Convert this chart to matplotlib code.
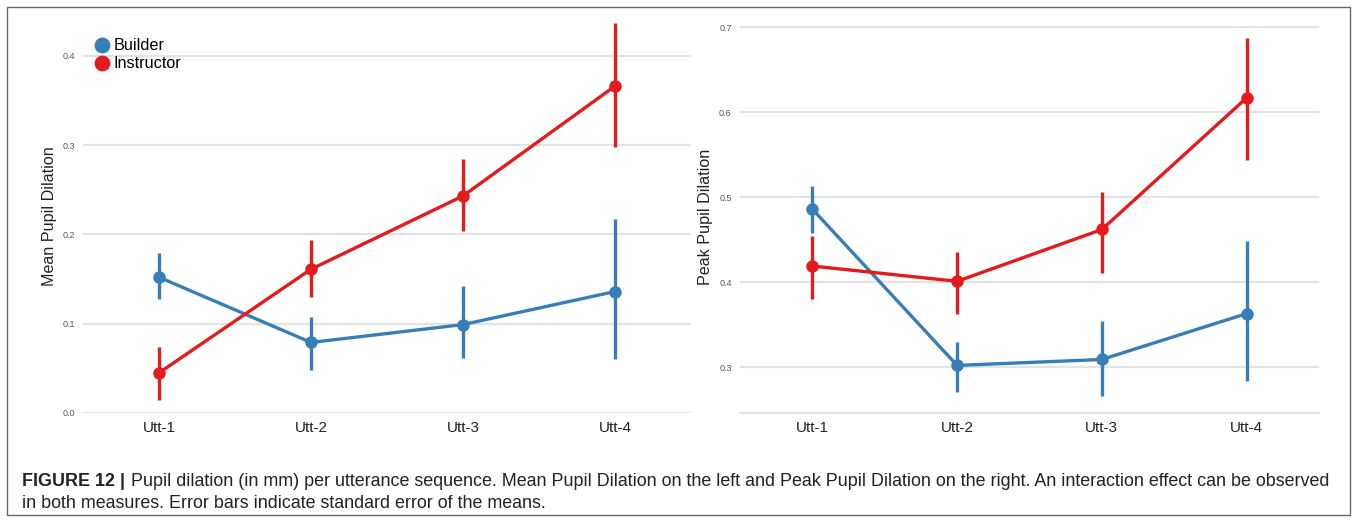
import matplotlib
matplotlib.use("Agg")
import matplotlib.pyplot as plt
from matplotlib.patches import Rectangle

plt.rcParams["font.family"] = ["Liberation Sans", "DejaVu Sans"]

utts = ["Utt-1", "Utt-2", "Utt-3", "Utt-4"]

# mean pupil dilation (left panel)
mean_builder = [0.152, 0.079, 0.099, 0.136]
mean_builder_lo = [0.128, 0.048, 0.062, 0.060]
mean_builder_hi = [0.179, 0.108, 0.142, 0.217]
mean_instr = [0.045, 0.161, 0.243, 0.366]
mean_instr_lo = [0.014, 0.130, 0.204, 0.298]
mean_instr_hi = [0.074, 0.194, 0.284, 0.437]

# peak pupil dilation (right panel)
peak_builder = [0.486, 0.302, 0.309, 0.363]
peak_builder_lo = [0.458, 0.271, 0.266, 0.284]
peak_builder_hi = [0.513, 0.329, 0.354, 0.449]
peak_instr = [0.419, 0.401, 0.462, 0.617]
peak_instr_lo = [0.380, 0.363, 0.411, 0.544]
peak_instr_hi = [0.454, 0.436, 0.506, 0.687]

blue = "#377eb8"
red = "#e41a1c"
grid_c = "#e3e3e3"

caption1 = ("Pupil dilation (in mm) per utterance sequence. Mean Pupil Dilation on the left and "
            "Peak Pupil Dilation on the right. An interaction effect can be observed")
caption2 = "in both measures. Error bars indicate standard error of the means."


def draw_series(ax, vals, lo, hi, color, label):
    x = list(range(len(vals)))
    for xi, l, h in zip(x, lo, hi):
        ax.plot([xi, xi], [l, h], color=color, lw=2.4, solid_capstyle="butt", zorder=3)
    ax.plot(x, vals, color=color, lw=2.4, marker="o", markersize=8, label=label, zorder=4)


def style_axes(ax, ylim, yticks, ylabel):
    ax.set_xlim(-0.5, 3.5)
    ax.set_ylim(*ylim)
    ax.set_yticks(yticks)
    ax.set_yticklabels([f"{t:.1f}" for t in yticks], fontsize=6.5, color="#555555")
    ax.set_xticks(range(len(utts)))
    ax.set_xticklabels(utts, fontsize=11, color="#222222")
    ax.tick_params(axis="both", length=0)
    ax.tick_params(axis="y", pad=6)
    ax.tick_params(axis="x", pad=6)
    for s in ["top", "right", "left"]:
        ax.spines[s].set_visible(False)
    ax.spines["bottom"].set_color(grid_c)
    ax.spines["bottom"].set_linewidth(1.5)
    ax.yaxis.grid(True, color=grid_c, lw=1.5)
    ax.set_axisbelow(True)
    ax.set_ylabel(ylabel, fontsize=11.6, color="#222222", labelpad=4)


fig = plt.figure(figsize=(13.57, 5.21), dpi=100)

ax1 = fig.add_axes([0.0612, 0.2073, 0.448, 0.7543])
draw_series(ax1, mean_builder, mean_builder_lo, mean_builder_hi, blue, "Builder")
draw_series(ax1, mean_instr, mean_instr_lo, mean_instr_hi, red, "Instructor")
style_axes(ax1, (0.0, 0.44), [0.0, 0.1, 0.2, 0.3, 0.4], "Mean Pupil Dilation")
ax1.spines["bottom"].set_visible(False)
ax1.legend(loc="upper left", bbox_to_anchor=(0.004, 0.982), frameon=False, fontsize=11.7,
           handlelength=0.6, handletextpad=0.45, labelspacing=0.18, borderaxespad=0.3,
           markerscale=1.3)
for h in ax1.get_legend().legend_handles:
    h.set_linestyle("none")

ax2 = fig.add_axes([0.5453, 0.2073, 0.4267, 0.7543])
draw_series(ax2, peak_builder, peak_builder_lo, peak_builder_hi, blue, "Builder")
draw_series(ax2, peak_instr, peak_instr_lo, peak_instr_hi, red, "Instructor")
style_axes(ax2, (0.246, 0.7086), [0.3, 0.4, 0.5, 0.6, 0.7], "Peak Pupil Dilation")

fig.patches.append(Rectangle((7 / 1357, 1 - 515 / 521), 1343 / 1357, 508 / 521,
                             transform=fig.transFigure, fill=False,
                             edgecolor="#666666", lw=1.0))

fig.text(22 / 1357, 1 - 481 / 521, "FIGURE 12 |", fontsize=12.9, fontweight="bold",
         color="#222222", va="center", ha="left")
fig.text(131 / 1357, 1 - 481 / 521, caption1, fontsize=12.9, color="#222222",
         va="center", ha="left")
fig.text(22 / 1357, 1 - 504 / 521, caption2, fontsize=12.9, color="#222222",
         va="center", ha="left")

fig.savefig("out.png", dpi=100)
